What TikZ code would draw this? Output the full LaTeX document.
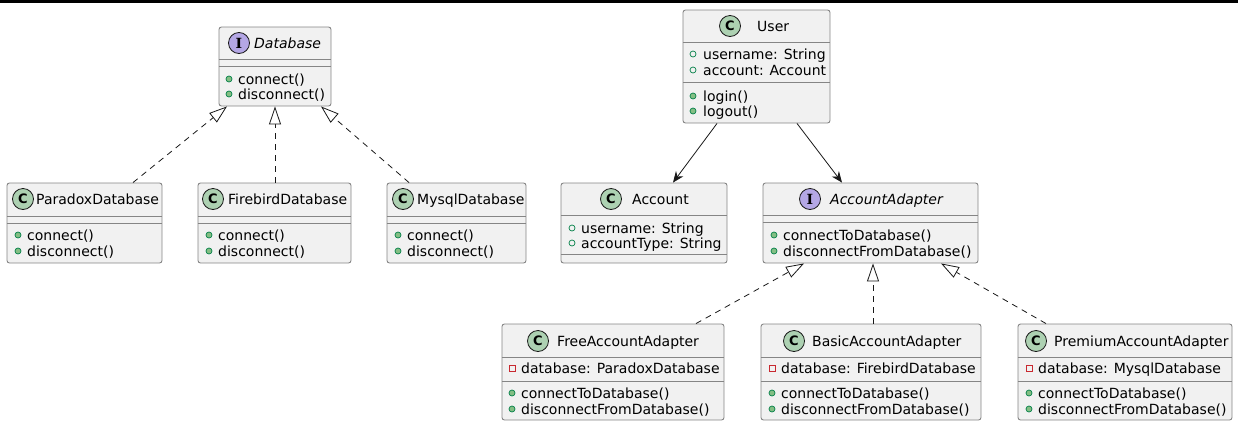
\documentclass[tikz,border=0pt]{standalone}
\usepackage{fontspec}
\setmainfont{DejaVu Sans}
\newfontfamily\iconserif{DejaVu Serif}
\usetikzlibrary{arrows.meta,calc}
\definecolor{boxfill}{HTML}{F1F1F1}
\definecolor{boxline}{HTML}{858585}
\definecolor{edgeline}{HTML}{181818}
\definecolor{classicon}{HTML}{ADD1B2}
\definecolor{ifaceicon}{HTML}{B4A7E5}
\definecolor{pubfill}{HTML}{84BE84}
\definecolor{publine}{HTML}{038048}
\definecolor{privline}{HTML}{C82930}
\tikzset{
  umlbox/.style={draw=boxline, fill=boxfill, line width=0.9pt, rounded corners=2.5pt, inner sep=0pt},
  sepline/.style={draw=boxline, line width=0.9pt},
  txt/.style={anchor=west, inner sep=0pt, text height=10pt, text depth=0pt, font=\fontsize{14}{16}\selectfont},
  ititle/.style={txt, font=\fontsize{14}{16}\selectfont\itshape},
  cicon/.style={circle, draw=edgeline, fill=classicon, line width=0.8pt, minimum size=21pt, inner sep=0pt, font=\fontsize{13}{13}\selectfont\bfseries},
  iicon/.style={circle, draw=edgeline, fill=ifaceicon, line width=0.8pt, minimum size=21pt, inner sep=0pt, font=\fontsize{14}{14}\selectfont\iconserif\bfseries},
  realize/.style={draw=edgeline, line width=0.8pt, dash pattern=on 6pt off 5pt, -{Triangle[length=18pt,width=12pt,fill=white,line width=0.8pt]}},
  assoc/.style={draw=edgeline, line width=0.8pt, -{Stealth[length=11pt,width=9pt,inset=3.5pt]}}
}
% box: name x1 y1 x2 y2
\newcommand\umlbox[5]{%
  \pgfmathsetmacro\ubw{#4-#2}\pgfmathsetmacro\ubh{#5-#3}%
  \node[umlbox, minimum width=\ubw pt, minimum height=\ubh pt] (#1) at ({(#2+#4)/2},{(#3+#5)/2}) {};}
% separator: box y
\newcommand\usep[2]{\draw[sepline] (#1.west |- 0,#2) -- (#1.east |- 0,#2);}
% public method: name iconx textx y text
\newcommand\pubm[5]{%
  \draw[fill=pubfill, draw=publine, line width=0.7pt] (#2,#4) circle (3pt);
  \node[txt] (#1) at (#3,#4) {#5};}
% public field
\newcommand\pubf[5]{%
  \draw[draw=publine, line width=0.7pt] (#2,#4) circle (3pt);
  \node[txt] (#1) at (#3,#4) {#5};}
% private field
\newcommand\privf[5]{%
  \draw[draw=privline, line width=0.7pt] ($(#2,#4)+(-3,-3)$) rectangle ($(#2,#4)+(3,3)$);
  \node[txt] (#1) at (#3,#4) {#5};}
\begin{document}
\begin{tikzpicture}[x=1pt,y=-1pt]
\useasboundingbox (0,0) rectangle (1238,426);
\fill[black] (0,0) rectangle (1238,3);

% ---------- Database ----------
\umlbox{db}{219}{27}{331}{106}
\usep{db}{59}\usep{db}{66}
\node[iicon] (dbi) at (239,43) {I};
\node[ititle] (dbt) at (254,43) {Database};
\pubm{dbm1}{229}{238}{79}{connect()}
\pubm{dbm2}{229}{238}{94}{disconnect()}

% ---------- ParadoxDatabase ----------
\umlbox{pdx}{7}{183}{162}{263}
\usep{pdx}{216}\usep{pdx}{223}
\node[cicon] (pdxi) at (23,199) {C};
\node[txt] (pdxt) at (36,199) {ParadoxDatabase};
\pubm{pdxm1}{18}{27}{235}{connect()}
\pubm{pdxm2}{18}{27}{251}{disconnect()}

% ---------- FirebirdDatabase ----------
\umlbox{fbd}{198}{183}{351}{263}
\usep{fbd}{216}\usep{fbd}{223}
\node[cicon] (fbdi) at (213,199) {C};
\node[txt] (fbdt) at (228,199) {FirebirdDatabase};
\pubm{fbdm1}{209}{218}{235}{connect()}
\pubm{fbdm2}{209}{218}{251}{disconnect()}

% ---------- MysqlDatabase ----------
\umlbox{myd}{387}{183}{526}{263}
\usep{myd}{216}\usep{myd}{223}
\node[cicon] (mydi) at (403,199) {C};
\node[txt] (mydt) at (417,199) {MysqlDatabase};
\pubm{mydm1}{398}{407}{235}{connect()}
\pubm{mydm2}{398}{407}{251}{disconnect()}

% ---------- User ----------
\umlbox{usr}{683}{10}{830}{123}
\usep{usr}{42}\usep{usr}{82}
\node[cicon] (usri) at (730,26) {C};
\node[txt] (usrt) at (757,26) {User};
\pubf{usrf1}{693}{703}{54}{username: String}
\pubf{usrf2}{693}{703}{70}{account: Account}
\pubm{usrm1}{693}{703}{96}{login()}
\pubm{usrm2}{693}{703}{111}{logout()}

% ---------- Account ----------
\umlbox{acc}{561}{183}{727}{263}
\usep{acc}{215}\usep{acc}{254}
\node[cicon] (acci) at (611,199) {C};
\node[txt] (acct) at (632,199) {Account};
\pubf{accf1}{572}{581}{228}{username: String}
\pubf{accf2}{572}{581}{243}{accountType: String}

% ---------- AccountAdapter ----------
\umlbox{aad}{763}{183}{978}{263}
\usep{aad}{215}\usep{aad}{222}
\node[iicon] (aadi) at (810,199) {I};
\node[ititle] (aadt) at (830,199) {AccountAdapter};
\pubm{aadm1}{774}{783}{235}{connectToDatabase()}
\pubm{aadm2}{774}{783}{251}{disconnectFromDatabase()}

% ---------- FreeAccountAdapter ----------
\umlbox{fre}{502}{324}{724}{420}
\usep{fre}{357}\usep{fre}{381}
\node[cicon] (frei) at (538,341) {C};
\node[txt] (fret) at (557,341) {FreeAccountAdapter};
\privf{fref1}{512}{521}{368}{database: ParadoxDatabase}
\pubm{frem1}{512}{521}{393}{connectToDatabase()}
\pubm{frem2}{512}{521}{409}{disconnectFromDatabase()}

% ---------- BasicAccountAdapter ----------
\umlbox{bas}{761}{324}{981}{420}
\usep{bas}{357}\usep{bas}{381}
\node[cicon] (basi) at (794,341) {C};
\node[txt] (bast) at (812,341) {BasicAccountAdapter};
\privf{basf1}{772}{781}{368}{database: FirebirdDatabase}
\pubm{basm1}{772}{781}{393}{connectToDatabase()}
\pubm{basm2}{772}{781}{409}{disconnectFromDatabase()}

% ---------- PremiumAccountAdapter ----------
\umlbox{pre}{1018}{324}{1232}{420}
\usep{pre}{357}\usep{pre}{381}
\node[cicon] (prei) at (1036,341) {C};
\node[txt] (pret) at (1054,341) {PremiumAccountAdapter};
\privf{pref1}{1029}{1038}{368}{database: MysqlDatabase}
\pubm{prem1}{1029}{1038}{393}{connectToDatabase()}
\pubm{prem2}{1029}{1038}{409}{disconnectFromDatabase()}

% ---------- connectors ----------
\draw[realize] (pdx.north -| 133,0) -- (db.south -| 227,0);
\draw[realize] (fbd.north -| 275,0) -- (db.south -| 275,0);
\draw[realize] (myd.north -| 409,0) -- (db.south -| 321,0);
\draw[assoc] (usr.south -| 717,0) -- (acc.north -| 673,0);
\draw[assoc] (usr.south -| 797,0) -- (aad.north -| 842,0);
\draw[realize] (fre.north -| 696,0) -- (aad.south -| 804,0);
\draw[realize] (bas.north -| 873,0) -- (aad.south -| 873,0);
\draw[realize] (pre.north -| 1046,0) -- (aad.south -| 941,0);
\end{tikzpicture}
\end{document}
